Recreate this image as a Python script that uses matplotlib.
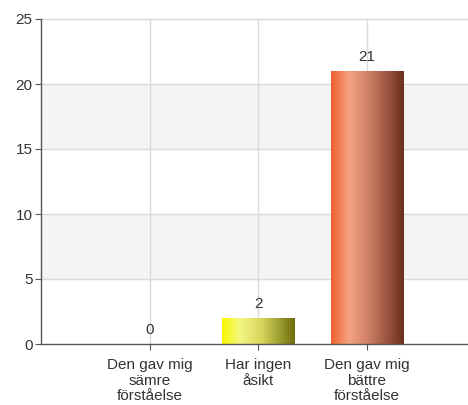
import numpy as np
import matplotlib.pyplot as plt
from matplotlib.colors import LinearSegmentedColormap

plt.rcParams['font.family'] = ['Liberation Sans', 'DejaVu Sans']

categories = ["Den gav mig\nsämre\nförståelse", "Har ingen\nåsikt", "Den gav mig\nbättre\nförståelse"]
counts = [0, 2, 21]
yticks = [0, 5, 10, 15, 20, 25]

# left edge, highlight, middle, dark right edge of each bar's shading
shades = [
    ["#3050d0", "#90a8f0", "#6078c8", "#203070"],
    ["#f8f800", "#f5f585", "#d6d65c", "#6c6c0c"],
    ["#f06030", "#f5a282", "#c87a62", "#6c2e1c"],
]

fig = plt.figure(figsize=(4.68, 4.05), dpi=100)
ax = fig.add_axes([41 / 468, 61 / 405, 427 / 468, 325 / 405])

x = np.arange(len(categories))

# alternating bands and grid
for lo in (5, 15):
    ax.axhspan(lo, lo + 5, color="#f4f4f4", zorder=0)
for y in yticks[1:]:
    ax.axhline(y, color="#dadada", lw=1, zorder=1, clip_on=False)
for xi in x:
    ax.axvline(xi, color="#dadada", lw=1, zorder=1)

bars = ax.bar(x, counts, width=0.67, facecolor="none", edgecolor="none", zorder=2)
for rect, cols in zip(bars, shades):
    h = rect.get_height()
    if h <= 0:
        continue
    cmap = LinearSegmentedColormap.from_list("bar", list(zip([0, 0.25, 0.55, 1], cols)))
    grad = np.linspace(0, 1, 256).reshape(1, -1)
    x0 = rect.get_x()
    im = ax.imshow(grad, cmap=cmap, aspect="auto", zorder=3,
                   extent=[x0, x0 + rect.get_width(), 0, h], interpolation="bilinear")
    im.set_clip_path(rect)

for xi, v in zip(x, counts):
    ax.annotate(str(v), (xi, v), xytext=(0, 5), textcoords="offset points",
                ha="center", va="bottom", fontsize=11, color="#333333")

ax.set_xlim(-1.0, 2.93)
ax.set_ylim(0, 25)
ax.set_yticks(yticks)
ax.set_xticks(x)
ax.set_xticklabels(categories, fontsize=11, color="#333333", linespacing=1.15)
ax.tick_params(axis="y", labelsize=11, labelcolor="#333333", length=4, color="#555555", pad=2)
ax.tick_params(axis="x", length=4, color="#555555", pad=6)

for side in ("top", "right"):
    ax.spines[side].set_visible(False)
for side in ("left", "bottom"):
    ax.spines[side].set_color("#555555")
    ax.spines[side].set_linewidth(1)
    ax.spines[side].set_zorder(4)

fig.savefig("out.png", dpi=100)
